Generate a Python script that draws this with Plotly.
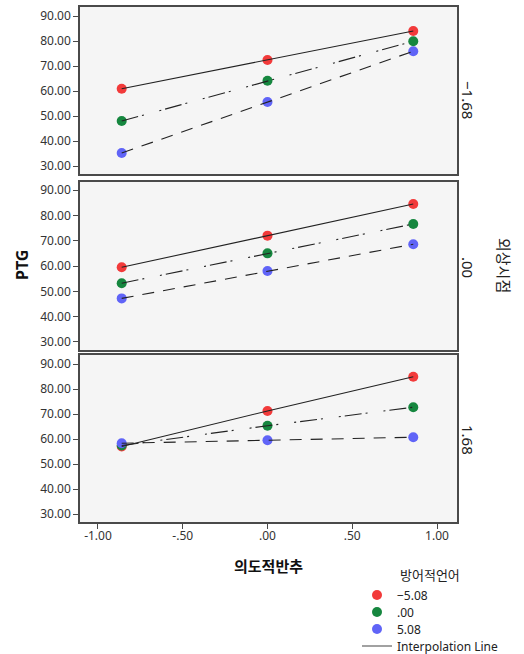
import plotly.graph_objects as go

# ---------------- data ----------------
x_vals = [-0.86, 0.0, 0.86]                 # 의도적반추
panel_labels = ["−1.68", ".00", "1.68"]      # 외상시점
group_labels = ["−5.08", ".00", "5.08"]      # 방어적언어
red_vals = [[60.9, 72.4, 84.0], [59.5, 72.0, 84.5], [57.0, 71.2, 84.9]]
green_vals = [[48.0, 64.1, 79.9], [53.2, 65.0, 76.6], [57.4, 65.3, 72.7]]
blue_vals = [[35.2, 55.6, 75.9], [47.2, 58.0, 68.6], [58.3, 59.5, 60.7]]
y_tickvals = [30, 40, 50, 60, 70, 80, 90]
x_tickvals = [-1.0, -0.5, 0.0, 0.5, 1.0]
x_ticktext = ["-1.00", "-.50", ".00", ".50", "1.00"]

# ---------------- style ----------------
W, H = 524, 654
colors = ["#f23a3a", "#16873f", "#6064f7"]
dashes = ["solid", "17px,4px,2px,16px,2px,4px", "12px,9px"]
FONT = "Noto Sans, Noto Sans CJK KR, sans-serif"
KFONT = "Noto Sans CJK KR, Noto Sans, sans-serif"


def fx(p):
    return p / W


def fy(p):
    return min(1.0, max(0.0, 1 - p / H))


panel_px = [(7, 174), (182, 350), (355, 522)]
y_ranges = [[26.8, 93.6], [26.8, 93.2], [26.8, 93.6]]
series = [red_vals, green_vals, blue_vals]
legend_names = ["legend", "legend2", "legend3"]
legend_rows = [595, 612, 629]

fig = go.Figure()
for i in range(3):
    xa = "x" if i == 0 else f"x{i+1}"
    ya = "y" if i == 0 else f"y{i+1}"
    for g in range(3):
        fig.add_trace(go.Scatter(
            x=x_vals, y=series[g][i], mode="markers",
            marker=dict(color=colors[g], size=10, line=dict(width=0)),
            name=group_labels[g], showlegend=(i == 0), legend=legend_names[g],
            xaxis=xa, yaxis=ya))
    for g in range(3):
        fig.add_trace(go.Scatter(
            x=x_vals, y=series[g][i], mode="lines",
            line=dict(color="#222222", width=1.1, dash=dashes[g]),
            showlegend=False, hoverinfo="skip", xaxis=xa, yaxis=ya))

fig.add_trace(go.Scatter(x=[None], y=[None], mode="lines",
                         line=dict(color="#444444", width=1.2),
                         name="Interpolation Line", legend="legend4"))

layout = dict(
    width=W, height=H,
    margin=dict(l=0, r=0, t=0, b=0, autoexpand=False),
    paper_bgcolor="white", plot_bgcolor="#f5f5f5",
    font=dict(family=FONT, size=12, color="#333333"),
    showlegend=True,
)

leg_common = dict(xanchor="left", yanchor="middle", bgcolor="rgba(0,0,0,0)",
                  font=dict(family=FONT, size=12, color="#222222"),
                  itemwidth=30, borderwidth=0)
for nm, row in zip(legend_names + ["legend4"], legend_rows + [646]):
    layout[nm] = dict(x=fx(357), y=fy(row), **leg_common)

for i, (top, bot) in enumerate(panel_px):
    sfx = "" if i == 0 else str(i + 1)
    layout["xaxis" + sfx] = dict(
        domain=[fx(80), fx(457)], range=[-1.106, 1.118],
        anchor="y" + sfx, showgrid=False, zeroline=False,
        showline=True, mirror=True, linecolor="#4a4a4a", linewidth=1.5,
        ticks="outside" if i == 2 else "", ticklen=5, tickcolor="#4a4a4a",
        tickvals=x_tickvals, ticktext=x_ticktext,
        showticklabels=(i == 2), ticklabelstandoff=-3,
        tickfont=dict(family=FONT, size=12, color="#333333"),
        automargin=False, ticklabeloverflow="allow",
    )
    layout["yaxis" + sfx] = dict(
        domain=[fy(bot), fy(top)], range=y_ranges[i],
        anchor="x" + sfx, showgrid=False, zeroline=False,
        showline=True, mirror=True, linecolor="#4a4a4a", linewidth=1.5,
        ticks="outside", ticklen=5, tickcolor="#4a4a4a",
        tickvals=y_tickvals, ticktext=[f"{v:.2f}" for v in y_tickvals],
        tickfont=dict(family=FONT, size=12, color="#333333"),
        automargin=False, ticklabeloverflow="allow",
    )

fig.update_layout(**layout)

annots = []
panel_centers = [(468, 100), (468, 267), (468, 440)]
for lab, (cx, cy) in zip(panel_labels, panel_centers):
    annots.append(dict(text=lab, x=fx(cx), y=fy(cy), xref="paper", yref="paper",
                       showarrow=False, textangle=90,
                       font=dict(family=FONT, size=15, color="#222222"),
                       xanchor="center", yanchor="middle"))
annots.append(dict(text="외상시점", x=fx(505), y=fy(265), xref="paper", yref="paper",
                   showarrow=False, textangle=90,
                   font=dict(family=KFONT, size=15, color="#222222"),
                   xanchor="center", yanchor="middle"))
annots.append(dict(text="<b>PTG</b>", x=fx(22), y=fy(265), xref="paper", yref="paper",
                   showarrow=False, textangle=-90,
                   font=dict(family=FONT, size=16, color="#111111"),
                   xanchor="center", yanchor="middle"))
annots.append(dict(text="<b>의도적반추</b>", x=fx(268), y=fy(565), xref="paper", yref="paper",
                   showarrow=False,
                   font=dict(family=KFONT, size=15, color="#111111"),
                   xanchor="center", yanchor="middle"))
annots.append(dict(text="방어적언어", x=fx(430), y=fy(574), xref="paper", yref="paper",
                   showarrow=False,
                   font=dict(family=KFONT, size=13, color="#222222"),
                   xanchor="center", yanchor="middle"))
fig.update_layout(annotations=annots)

fig.write_html("out.html", config={"displayModeBar": False},
               post_script="document.body.style.margin='0';document.body.style.overflow='hidden';")
